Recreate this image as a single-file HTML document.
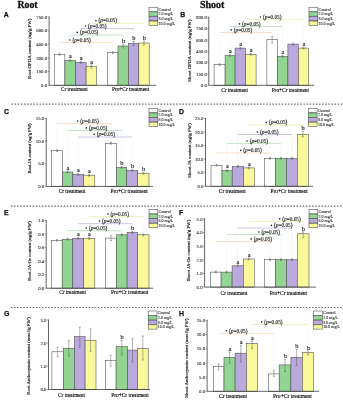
<!DOCTYPE html>
<html><head><meta charset="utf-8"><style>
html,body{margin:0;padding:0;background:#fff;width:343px;height:400px;overflow:hidden}
svg{display:block;will-change:transform}
.t{fill:#111;stroke:#111;stroke-width:0.15}
.s{fill:#222;stroke:#222;stroke-width:0.14}
.y{fill:#333;stroke:#333;stroke-width:0.1}
.yl{fill:#222;stroke:#222;stroke-width:0.17}
</style></head><body>
<svg width="343" height="400" viewBox="0 0 343 400" font-family="'Liberation Serif', serif">
<rect x="0" y="0" width="343" height="400" fill="#fff"/>
<line x1="59.6" y1="42.6" x2="112.8" y2="42.6" stroke="#f0cfa8" stroke-width="0.6"/>
<line x1="59.6" y1="42.6" x2="59.6" y2="54.3" stroke="#f0cfa8" stroke-width="0.4" stroke-dasharray="0.8 0.6" opacity="0.5"/>
<line x1="112.8" y1="42.6" x2="112.8" y2="52.6" stroke="#f0cfa8" stroke-width="0.4" stroke-dasharray="0.8 0.6" opacity="0.5"/>
<circle cx="69.8" cy="40" r="0.8" fill="#222"/>
<text x="72.4" y="41.7" font-size="5.3" class="s">(<tspan font-style="italic">p</tspan>=0.05)</text>
<line x1="70.2" y1="35" x2="123.2" y2="35" stroke="#9ed09e" stroke-width="0.6"/>
<line x1="70.2" y1="35" x2="70.2" y2="60.5" stroke="#9ed09e" stroke-width="0.4" stroke-dasharray="0.8 0.6" opacity="0.5"/>
<line x1="123.2" y1="35" x2="123.2" y2="46" stroke="#9ed09e" stroke-width="0.4" stroke-dasharray="0.8 0.6" opacity="0.5"/>
<circle cx="77.3" cy="32.4" r="0.8" fill="#222"/>
<text x="79.9" y="34.1" font-size="5.3" class="s">(<tspan font-style="italic">p</tspan>=0.05)</text>
<line x1="80.8" y1="28.6" x2="133.6" y2="28.6" stroke="#aaa2cf" stroke-width="0.6"/>
<line x1="80.8" y1="28.6" x2="80.8" y2="62.4" stroke="#aaa2cf" stroke-width="0.4" stroke-dasharray="0.8 0.6" opacity="0.5"/>
<line x1="133.6" y1="28.6" x2="133.6" y2="43.5" stroke="#aaa2cf" stroke-width="0.4" stroke-dasharray="0.8 0.6" opacity="0.5"/>
<circle cx="85.4" cy="26" r="0.8" fill="#222"/>
<text x="88" y="27.7" font-size="5.3" class="s">(<tspan font-style="italic">p</tspan>=0.05)</text>
<line x1="91.4" y1="23.3" x2="144" y2="23.3" stroke="#e6e29a" stroke-width="0.6"/>
<line x1="91.4" y1="23.3" x2="91.4" y2="66.6" stroke="#e6e29a" stroke-width="0.4" stroke-dasharray="0.8 0.6" opacity="0.5"/>
<line x1="144" y1="23.3" x2="144" y2="43" stroke="#e6e29a" stroke-width="0.4" stroke-dasharray="0.8 0.6" opacity="0.5"/>
<circle cx="95.9" cy="20.7" r="0.8" fill="#222"/>
<text x="98.5" y="22.4" font-size="5.3" class="s">(<tspan font-style="italic">p</tspan>=0.05)</text>
<rect x="54.3" y="54.3" width="10.6" height="31" fill="#ffffff" stroke="#4a4a4a" stroke-width="0.55"/>
<line x1="59.6" y1="53.4" x2="59.6" y2="55.2" stroke="#444" stroke-width="0.4"/>
<line x1="58.6" y1="53.4" x2="60.6" y2="53.4" stroke="#444" stroke-width="0.4"/>
<line x1="58.6" y1="55.2" x2="60.6" y2="55.2" stroke="#444" stroke-width="0.4"/>
<rect x="64.9" y="60.5" width="10.6" height="24.8" fill="#92d592" stroke="#4a4a4a" stroke-width="0.55"/>
<line x1="70.2" y1="59.6" x2="70.2" y2="61.4" stroke="#444" stroke-width="0.4"/>
<line x1="69.2" y1="59.6" x2="71.2" y2="59.6" stroke="#444" stroke-width="0.4"/>
<line x1="69.2" y1="61.4" x2="71.2" y2="61.4" stroke="#444" stroke-width="0.4"/>
<rect x="75.5" y="62.4" width="10.6" height="22.9" fill="#b9a9dc" stroke="#4a4a4a" stroke-width="0.55"/>
<line x1="80.8" y1="61.5" x2="80.8" y2="63.3" stroke="#444" stroke-width="0.4"/>
<line x1="79.8" y1="61.5" x2="81.8" y2="61.5" stroke="#444" stroke-width="0.4"/>
<line x1="79.8" y1="63.3" x2="81.8" y2="63.3" stroke="#444" stroke-width="0.4"/>
<rect x="86.1" y="66.6" width="10.6" height="18.7" fill="#f9f89b" stroke="#4a4a4a" stroke-width="0.55"/>
<line x1="91.4" y1="65" x2="91.4" y2="68.2" stroke="#444" stroke-width="0.4"/>
<line x1="90.4" y1="65" x2="92.4" y2="65" stroke="#444" stroke-width="0.4"/>
<line x1="90.4" y1="68.2" x2="92.4" y2="68.2" stroke="#444" stroke-width="0.4"/>
<rect x="107.6" y="52.6" width="10.4" height="32.7" fill="#ffffff" stroke="#4a4a4a" stroke-width="0.55"/>
<line x1="112.8" y1="51.7" x2="112.8" y2="53.5" stroke="#444" stroke-width="0.4"/>
<line x1="111.8" y1="51.7" x2="113.8" y2="51.7" stroke="#444" stroke-width="0.4"/>
<line x1="111.8" y1="53.5" x2="113.8" y2="53.5" stroke="#444" stroke-width="0.4"/>
<rect x="118" y="46" width="10.4" height="39.3" fill="#92d592" stroke="#4a4a4a" stroke-width="0.55"/>
<line x1="123.2" y1="44" x2="123.2" y2="48" stroke="#444" stroke-width="0.4"/>
<line x1="122.2" y1="44" x2="124.2" y2="44" stroke="#444" stroke-width="0.4"/>
<line x1="122.2" y1="48" x2="124.2" y2="48" stroke="#444" stroke-width="0.4"/>
<rect x="128.4" y="43.5" width="10.4" height="41.8" fill="#b9a9dc" stroke="#4a4a4a" stroke-width="0.55"/>
<line x1="133.6" y1="41.5" x2="133.6" y2="45.5" stroke="#444" stroke-width="0.4"/>
<line x1="132.6" y1="41.5" x2="134.6" y2="41.5" stroke="#444" stroke-width="0.4"/>
<line x1="132.6" y1="45.5" x2="134.6" y2="45.5" stroke="#444" stroke-width="0.4"/>
<rect x="138.8" y="43" width="10.4" height="42.3" fill="#f9f89b" stroke="#4a4a4a" stroke-width="0.55"/>
<line x1="144" y1="41" x2="144" y2="45" stroke="#444" stroke-width="0.4"/>
<line x1="143" y1="41" x2="145" y2="41" stroke="#444" stroke-width="0.4"/>
<line x1="143" y1="45" x2="145" y2="45" stroke="#444" stroke-width="0.4"/>
<text x="70.5" y="58.3" font-size="6.3" text-anchor="middle" class="s">a</text>
<text x="81.1" y="60.2" font-size="6.3" text-anchor="middle" class="s">a</text>
<text x="91.7" y="63.7" font-size="6.3" text-anchor="middle" class="s">a</text>
<text x="123.5" y="42.7" font-size="6.3" text-anchor="middle" class="s">b</text>
<text x="133.9" y="40.2" font-size="6.3" text-anchor="middle" class="s">b</text>
<text x="144.3" y="39.7" font-size="6.3" text-anchor="middle" class="s">b</text>
<line x1="49.1" y1="16.5" x2="49.1" y2="85.3" stroke="#333" stroke-width="0.75"/>
<line x1="49.1" y1="85.3" x2="156.3" y2="85.3" stroke="#333" stroke-width="0.75"/>
<line x1="47.5" y1="85.3" x2="49.1" y2="85.3" stroke="#333" stroke-width="0.45"/>
<text x="47.1" y="86.95" font-size="4.8" text-anchor="end" class="y">0.0</text>
<line x1="47.5" y1="71.64" x2="49.1" y2="71.64" stroke="#333" stroke-width="0.45"/>
<text x="47.1" y="73.29" font-size="4.8" text-anchor="end" class="y">150.0</text>
<line x1="47.5" y1="57.98" x2="49.1" y2="57.98" stroke="#333" stroke-width="0.45"/>
<text x="47.1" y="59.63" font-size="4.8" text-anchor="end" class="y">300.0</text>
<line x1="47.5" y1="44.32" x2="49.1" y2="44.32" stroke="#333" stroke-width="0.45"/>
<text x="47.1" y="45.97" font-size="4.8" text-anchor="end" class="y">450.0</text>
<line x1="47.5" y1="30.66" x2="49.1" y2="30.66" stroke="#333" stroke-width="0.45"/>
<text x="47.1" y="32.31" font-size="4.8" text-anchor="end" class="y">600.0</text>
<line x1="47.5" y1="17" x2="49.1" y2="17" stroke="#333" stroke-width="0.45"/>
<text x="47.1" y="18.65" font-size="4.8" text-anchor="end" class="y">750.0</text>
<text transform="translate(31.2,48.8) rotate(-90)" font-size="4.85" text-anchor="middle" class="yl">Root OPDA content (ng/g FW)</text>
<text x="74.3" y="91.2" font-size="5.35" text-anchor="middle" class="t">Cr treatment</text>
<text x="130.6" y="91.2" font-size="5.35" text-anchor="middle" class="t">Pro+Cr treatment</text>
<rect x="149" y="7.3" width="8.8" height="4.3" fill="#ffffff" stroke="#4a4a4a" stroke-width="0.55"/>
<text x="158.6" y="10.7" font-size="4.0" class="y">Control</text>
<rect x="149" y="11.9" width="8.8" height="4.3" fill="#92d592" stroke="#4a4a4a" stroke-width="0.55"/>
<text x="158.6" y="15.3" font-size="4.0" class="y">2.0 mg/L</text>
<rect x="149" y="16.5" width="8.8" height="4.3" fill="#b9a9dc" stroke="#4a4a4a" stroke-width="0.55"/>
<text x="158.6" y="19.9" font-size="4.0" class="y">8.0 mg/L</text>
<rect x="149" y="21.1" width="8.8" height="4.3" fill="#f9f89b" stroke="#4a4a4a" stroke-width="0.55"/>
<text x="158.6" y="24.5" font-size="4.0" class="y">10.0 mg/L</text>
<text x="3.8" y="17" font-family="'Liberation Sans', sans-serif" font-weight="bold" font-size="6.9" fill="#111" stroke="#111" stroke-width="0.25">A</text>
<line x1="219.6" y1="32.5" x2="272.15" y2="32.5" stroke="#f0cfa8" stroke-width="0.6"/>
<line x1="219.6" y1="32.5" x2="219.6" y2="64.6" stroke="#f0cfa8" stroke-width="0.4" stroke-dasharray="0.8 0.6" opacity="0.5"/>
<line x1="272.15" y1="32.5" x2="272.15" y2="39.7" stroke="#f0cfa8" stroke-width="0.4" stroke-dasharray="0.8 0.6" opacity="0.5"/>
<circle cx="231.2" cy="29.9" r="0.8" fill="#222"/>
<text x="233.8" y="31.6" font-size="5.3" class="s">(<tspan font-style="italic">p</tspan>=0.05)</text>
<line x1="230.1" y1="26.5" x2="282.65" y2="26.5" stroke="#9ed09e" stroke-width="0.6"/>
<line x1="230.1" y1="26.5" x2="230.1" y2="55.5" stroke="#9ed09e" stroke-width="0.4" stroke-dasharray="0.8 0.6" opacity="0.5"/>
<line x1="282.65" y1="26.5" x2="282.65" y2="56.4" stroke="#9ed09e" stroke-width="0.4" stroke-dasharray="0.8 0.6" opacity="0.5"/>
<circle cx="239.5" cy="23.9" r="0.8" fill="#222"/>
<text x="242.1" y="25.6" font-size="5.3" class="s">(<tspan font-style="italic">p</tspan>=0.05)</text>
<line x1="250.85" y1="19.6" x2="303.55" y2="19.6" stroke="#e6e29a" stroke-width="0.6"/>
<line x1="250.85" y1="19.6" x2="250.85" y2="54.3" stroke="#e6e29a" stroke-width="0.4" stroke-dasharray="0.8 0.6" opacity="0.5"/>
<line x1="303.55" y1="19.6" x2="303.55" y2="48.1" stroke="#e6e29a" stroke-width="0.4" stroke-dasharray="0.8 0.6" opacity="0.5"/>
<circle cx="260.4" cy="17" r="0.8" fill="#222"/>
<text x="263" y="18.7" font-size="5.3" class="s">(<tspan font-style="italic">p</tspan>=0.05)</text>
<rect x="214.1" y="64.6" width="11" height="20.7" fill="#ffffff" stroke="#4a4a4a" stroke-width="0.55"/>
<line x1="219.6" y1="63.7" x2="219.6" y2="65.5" stroke="#444" stroke-width="0.4"/>
<line x1="218.6" y1="63.7" x2="220.6" y2="63.7" stroke="#444" stroke-width="0.4"/>
<line x1="218.6" y1="65.5" x2="220.6" y2="65.5" stroke="#444" stroke-width="0.4"/>
<rect x="225.1" y="55.5" width="10" height="29.8" fill="#92d592" stroke="#4a4a4a" stroke-width="0.55"/>
<line x1="230.1" y1="54.6" x2="230.1" y2="56.4" stroke="#444" stroke-width="0.4"/>
<line x1="229.1" y1="54.6" x2="231.1" y2="54.6" stroke="#444" stroke-width="0.4"/>
<line x1="229.1" y1="56.4" x2="231.1" y2="56.4" stroke="#444" stroke-width="0.4"/>
<rect x="235.1" y="48.1" width="10.5" height="37.2" fill="#b9a9dc" stroke="#4a4a4a" stroke-width="0.55"/>
<line x1="240.35" y1="47.2" x2="240.35" y2="49" stroke="#444" stroke-width="0.4"/>
<line x1="239.35" y1="47.2" x2="241.35" y2="47.2" stroke="#444" stroke-width="0.4"/>
<line x1="239.35" y1="49" x2="241.35" y2="49" stroke="#444" stroke-width="0.4"/>
<rect x="245.6" y="54.3" width="10.5" height="31" fill="#f9f89b" stroke="#4a4a4a" stroke-width="0.55"/>
<line x1="250.85" y1="53.4" x2="250.85" y2="55.2" stroke="#444" stroke-width="0.4"/>
<line x1="249.85" y1="53.4" x2="251.85" y2="53.4" stroke="#444" stroke-width="0.4"/>
<line x1="249.85" y1="55.2" x2="251.85" y2="55.2" stroke="#444" stroke-width="0.4"/>
<rect x="266.9" y="39.7" width="10.5" height="45.6" fill="#ffffff" stroke="#4a4a4a" stroke-width="0.55"/>
<line x1="272.15" y1="36.2" x2="272.15" y2="43.2" stroke="#444" stroke-width="0.4"/>
<line x1="271.15" y1="36.2" x2="273.15" y2="36.2" stroke="#444" stroke-width="0.4"/>
<line x1="271.15" y1="43.2" x2="273.15" y2="43.2" stroke="#444" stroke-width="0.4"/>
<rect x="277.4" y="56.4" width="10.5" height="28.9" fill="#92d592" stroke="#4a4a4a" stroke-width="0.55"/>
<line x1="282.65" y1="55.5" x2="282.65" y2="57.3" stroke="#444" stroke-width="0.4"/>
<line x1="281.65" y1="55.5" x2="283.65" y2="55.5" stroke="#444" stroke-width="0.4"/>
<line x1="281.65" y1="57.3" x2="283.65" y2="57.3" stroke="#444" stroke-width="0.4"/>
<rect x="287.9" y="44.1" width="10.5" height="41.2" fill="#b9a9dc" stroke="#4a4a4a" stroke-width="0.55"/>
<line x1="293.15" y1="43.2" x2="293.15" y2="45" stroke="#444" stroke-width="0.4"/>
<line x1="292.15" y1="43.2" x2="294.15" y2="43.2" stroke="#444" stroke-width="0.4"/>
<line x1="292.15" y1="45" x2="294.15" y2="45" stroke="#444" stroke-width="0.4"/>
<rect x="298.4" y="48.1" width="10.3" height="37.2" fill="#f9f89b" stroke="#4a4a4a" stroke-width="0.55"/>
<line x1="303.55" y1="47.2" x2="303.55" y2="49" stroke="#444" stroke-width="0.4"/>
<line x1="302.55" y1="47.2" x2="304.55" y2="47.2" stroke="#444" stroke-width="0.4"/>
<line x1="302.55" y1="49" x2="304.55" y2="49" stroke="#444" stroke-width="0.4"/>
<text x="230.4" y="53.3" font-size="6.3" text-anchor="middle" class="s">a</text>
<text x="240.65" y="45.9" font-size="6.3" text-anchor="middle" class="s">a</text>
<text x="251.15" y="52.1" font-size="6.3" text-anchor="middle" class="s">a</text>
<text x="282.95" y="54.2" font-size="6.3" text-anchor="middle" class="s">a</text>
<text x="303.85" y="45.9" font-size="6.3" text-anchor="middle" class="s">a</text>
<line x1="208.8" y1="16.7" x2="208.8" y2="85.3" stroke="#333" stroke-width="0.75"/>
<line x1="208.8" y1="85.3" x2="314.2" y2="85.3" stroke="#333" stroke-width="0.75"/>
<line x1="207.2" y1="85.3" x2="208.8" y2="85.3" stroke="#333" stroke-width="0.45"/>
<text x="206.8" y="86.95" font-size="4.8" text-anchor="end" class="y">0.0</text>
<line x1="207.2" y1="73.95" x2="208.8" y2="73.95" stroke="#333" stroke-width="0.45"/>
<text x="206.8" y="75.6" font-size="4.8" text-anchor="end" class="y">150.0</text>
<line x1="207.2" y1="62.6" x2="208.8" y2="62.6" stroke="#333" stroke-width="0.45"/>
<text x="206.8" y="64.25" font-size="4.8" text-anchor="end" class="y">300.0</text>
<line x1="207.2" y1="51.25" x2="208.8" y2="51.25" stroke="#333" stroke-width="0.45"/>
<text x="206.8" y="52.9" font-size="4.8" text-anchor="end" class="y">450.0</text>
<line x1="207.2" y1="39.9" x2="208.8" y2="39.9" stroke="#333" stroke-width="0.45"/>
<text x="206.8" y="41.55" font-size="4.8" text-anchor="end" class="y">600.0</text>
<line x1="207.2" y1="28.55" x2="208.8" y2="28.55" stroke="#333" stroke-width="0.45"/>
<text x="206.8" y="30.2" font-size="4.8" text-anchor="end" class="y">750.0</text>
<line x1="207.2" y1="17.2" x2="208.8" y2="17.2" stroke="#333" stroke-width="0.45"/>
<text x="206.8" y="18.85" font-size="4.8" text-anchor="end" class="y">900.0</text>
<text transform="translate(190.5,50.5) rotate(-90)" font-size="4.85" text-anchor="middle" class="yl">Shoot OPDA content (ng/g FW)</text>
<text x="234.6" y="91.8" font-size="5.35" text-anchor="middle" class="t">Cr treatment</text>
<text x="290.3" y="91.8" font-size="5.35" text-anchor="middle" class="t">Pro+Cr treatment</text>
<rect x="309" y="7.3" width="8.8" height="4.3" fill="#ffffff" stroke="#4a4a4a" stroke-width="0.55"/>
<text x="318.6" y="10.7" font-size="4.0" class="y">Control</text>
<rect x="309" y="11.9" width="8.8" height="4.3" fill="#92d592" stroke="#4a4a4a" stroke-width="0.55"/>
<text x="318.6" y="15.3" font-size="4.0" class="y">2.0 mg/L</text>
<rect x="309" y="16.5" width="8.8" height="4.3" fill="#b9a9dc" stroke="#4a4a4a" stroke-width="0.55"/>
<text x="318.6" y="19.9" font-size="4.0" class="y">8.0 mg/L</text>
<rect x="309" y="21.1" width="8.8" height="4.3" fill="#f9f89b" stroke="#4a4a4a" stroke-width="0.55"/>
<text x="318.6" y="24.5" font-size="4.0" class="y">10.0 mg/L</text>
<text x="180.3" y="17.1" font-family="'Liberation Sans', sans-serif" font-weight="bold" font-size="6.9" fill="#111" stroke="#111" stroke-width="0.25">B</text>
<line x1="57" y1="123.7" x2="110.95" y2="123.7" stroke="#f0cfa8" stroke-width="0.6"/>
<line x1="57" y1="123.7" x2="57" y2="150.7" stroke="#f0cfa8" stroke-width="0.4" stroke-dasharray="0.8 0.6" opacity="0.5"/>
<line x1="110.95" y1="123.7" x2="110.95" y2="143.3" stroke="#f0cfa8" stroke-width="0.4" stroke-dasharray="0.8 0.6" opacity="0.5"/>
<circle cx="77.7" cy="121.1" r="0.8" fill="#222"/>
<text x="80.3" y="122.8" font-size="5.3" class="s">(<tspan font-style="italic">p</tspan>=0.05)</text>
<line x1="67.7" y1="130.5" x2="121.65" y2="130.5" stroke="#9ed09e" stroke-width="0.6"/>
<line x1="67.7" y1="130.5" x2="67.7" y2="172" stroke="#9ed09e" stroke-width="0.4" stroke-dasharray="0.8 0.6" opacity="0.5"/>
<line x1="121.65" y1="130.5" x2="121.65" y2="167.3" stroke="#9ed09e" stroke-width="0.4" stroke-dasharray="0.8 0.6" opacity="0.5"/>
<circle cx="86.3" cy="127.9" r="0.8" fill="#222"/>
<text x="88.9" y="129.6" font-size="5.3" class="s">(<tspan font-style="italic">p</tspan>=0.05)</text>
<line x1="78.2" y1="137" x2="132.2" y2="137" stroke="#aaa2cf" stroke-width="0.6"/>
<line x1="78.2" y1="137" x2="78.2" y2="174.3" stroke="#aaa2cf" stroke-width="0.4" stroke-dasharray="0.8 0.6" opacity="0.5"/>
<line x1="132.2" y1="137" x2="132.2" y2="170.3" stroke="#aaa2cf" stroke-width="0.4" stroke-dasharray="0.8 0.6" opacity="0.5"/>
<circle cx="94.1" cy="134.4" r="0.8" fill="#222"/>
<text x="96.7" y="136.1" font-size="5.3" class="s">(<tspan font-style="italic">p</tspan>=0.05)</text>
<rect x="51.4" y="150.7" width="11.2" height="35.7" fill="#ffffff" stroke="#4a4a4a" stroke-width="0.55"/>
<line x1="57" y1="149.8" x2="57" y2="151.6" stroke="#444" stroke-width="0.4"/>
<line x1="56" y1="149.8" x2="58" y2="149.8" stroke="#444" stroke-width="0.4"/>
<line x1="56" y1="151.6" x2="58" y2="151.6" stroke="#444" stroke-width="0.4"/>
<rect x="62.6" y="172" width="10.2" height="14.4" fill="#92d592" stroke="#4a4a4a" stroke-width="0.55"/>
<line x1="67.7" y1="171.1" x2="67.7" y2="172.9" stroke="#444" stroke-width="0.4"/>
<line x1="66.7" y1="171.1" x2="68.7" y2="171.1" stroke="#444" stroke-width="0.4"/>
<line x1="66.7" y1="172.9" x2="68.7" y2="172.9" stroke="#444" stroke-width="0.4"/>
<rect x="72.8" y="174.3" width="10.8" height="12.1" fill="#b9a9dc" stroke="#4a4a4a" stroke-width="0.55"/>
<line x1="78.2" y1="173.4" x2="78.2" y2="175.2" stroke="#444" stroke-width="0.4"/>
<line x1="77.2" y1="173.4" x2="79.2" y2="173.4" stroke="#444" stroke-width="0.4"/>
<line x1="77.2" y1="175.2" x2="79.2" y2="175.2" stroke="#444" stroke-width="0.4"/>
<rect x="83.6" y="175.2" width="11.2" height="11.2" fill="#f9f89b" stroke="#4a4a4a" stroke-width="0.55"/>
<line x1="89.2" y1="174.3" x2="89.2" y2="176.1" stroke="#444" stroke-width="0.4"/>
<line x1="88.2" y1="174.3" x2="90.2" y2="174.3" stroke="#444" stroke-width="0.4"/>
<line x1="88.2" y1="176.1" x2="90.2" y2="176.1" stroke="#444" stroke-width="0.4"/>
<rect x="105.3" y="143.3" width="11.3" height="43.1" fill="#ffffff" stroke="#4a4a4a" stroke-width="0.55"/>
<line x1="110.95" y1="142.4" x2="110.95" y2="144.2" stroke="#444" stroke-width="0.4"/>
<line x1="109.95" y1="142.4" x2="111.95" y2="142.4" stroke="#444" stroke-width="0.4"/>
<line x1="109.95" y1="144.2" x2="111.95" y2="144.2" stroke="#444" stroke-width="0.4"/>
<rect x="116.6" y="167.3" width="10.1" height="19.1" fill="#92d592" stroke="#4a4a4a" stroke-width="0.55"/>
<line x1="121.65" y1="166.4" x2="121.65" y2="168.2" stroke="#444" stroke-width="0.4"/>
<line x1="120.65" y1="166.4" x2="122.65" y2="166.4" stroke="#444" stroke-width="0.4"/>
<line x1="120.65" y1="168.2" x2="122.65" y2="168.2" stroke="#444" stroke-width="0.4"/>
<rect x="126.7" y="170.3" width="11" height="16.1" fill="#b9a9dc" stroke="#4a4a4a" stroke-width="0.55"/>
<line x1="132.2" y1="169.4" x2="132.2" y2="171.2" stroke="#444" stroke-width="0.4"/>
<line x1="131.2" y1="169.4" x2="133.2" y2="169.4" stroke="#444" stroke-width="0.4"/>
<line x1="131.2" y1="171.2" x2="133.2" y2="171.2" stroke="#444" stroke-width="0.4"/>
<rect x="137.7" y="173.2" width="11.3" height="13.2" fill="#f9f89b" stroke="#4a4a4a" stroke-width="0.55"/>
<line x1="143.35" y1="172.3" x2="143.35" y2="174.1" stroke="#444" stroke-width="0.4"/>
<line x1="142.35" y1="172.3" x2="144.35" y2="172.3" stroke="#444" stroke-width="0.4"/>
<line x1="142.35" y1="174.1" x2="144.35" y2="174.1" stroke="#444" stroke-width="0.4"/>
<text x="68" y="169.8" font-size="6.3" text-anchor="middle" class="s">a</text>
<text x="78.5" y="172.1" font-size="6.3" text-anchor="middle" class="s">a</text>
<text x="89.5" y="173" font-size="6.3" text-anchor="middle" class="s">a</text>
<text x="121.95" y="165.1" font-size="6.3" text-anchor="middle" class="s">b</text>
<text x="132.5" y="168.1" font-size="6.3" text-anchor="middle" class="s">b</text>
<text x="143.65" y="171" font-size="6.3" text-anchor="middle" class="s">b</text>
<line x1="46.2" y1="118" x2="46.2" y2="186.4" stroke="#333" stroke-width="0.75"/>
<line x1="46.2" y1="186.4" x2="153.1" y2="186.4" stroke="#333" stroke-width="0.75"/>
<line x1="44.6" y1="186.4" x2="46.2" y2="186.4" stroke="#333" stroke-width="0.45"/>
<text x="44.2" y="188.05" font-size="4.8" text-anchor="end" class="y">0.0</text>
<line x1="44.6" y1="163.77" x2="46.2" y2="163.77" stroke="#333" stroke-width="0.45"/>
<text x="44.2" y="165.42" font-size="4.8" text-anchor="end" class="y">5.0</text>
<line x1="44.6" y1="141.13" x2="46.2" y2="141.13" stroke="#333" stroke-width="0.45"/>
<text x="44.2" y="142.78" font-size="4.8" text-anchor="end" class="y">10.0</text>
<line x1="44.6" y1="118.5" x2="46.2" y2="118.5" stroke="#333" stroke-width="0.45"/>
<text x="44.2" y="120.15" font-size="4.8" text-anchor="end" class="y">15.0</text>
<text transform="translate(30.8,148.5) rotate(-90)" font-size="4.6" text-anchor="middle" class="yl">Root JA content (ng/g FW)</text>
<text x="72.1" y="193.2" font-size="5.35" text-anchor="middle" class="t">Cr treatment</text>
<text x="129.15" y="193.2" font-size="5.35" text-anchor="middle" class="t">Pro+Cr treatment</text>
<rect x="149" y="108.4" width="8.8" height="4.3" fill="#ffffff" stroke="#4a4a4a" stroke-width="0.55"/>
<text x="158.6" y="111.8" font-size="4.0" class="y">Control</text>
<rect x="149" y="113" width="8.8" height="4.3" fill="#92d592" stroke="#4a4a4a" stroke-width="0.55"/>
<text x="158.6" y="116.4" font-size="4.0" class="y">2.0 mg/L</text>
<rect x="149" y="117.6" width="8.8" height="4.3" fill="#b9a9dc" stroke="#4a4a4a" stroke-width="0.55"/>
<text x="158.6" y="121" font-size="4.0" class="y">8.0 mg/L</text>
<rect x="149" y="122.2" width="8.8" height="4.3" fill="#f9f89b" stroke="#4a4a4a" stroke-width="0.55"/>
<text x="158.6" y="125.6" font-size="4.0" class="y">10.0 mg/L</text>
<text x="4" y="113.9" font-family="'Liberation Sans', sans-serif" font-weight="bold" font-size="6.9" fill="#111" stroke="#111" stroke-width="0.25">C</text>
<line x1="216.5" y1="153" x2="269.9" y2="153" stroke="#f0cfa8" stroke-width="0.6"/>
<line x1="216.5" y1="153" x2="216.5" y2="165.3" stroke="#f0cfa8" stroke-width="0.4" stroke-dasharray="0.8 0.6" opacity="0.5"/>
<line x1="269.9" y1="153" x2="269.9" y2="158.3" stroke="#f0cfa8" stroke-width="0.4" stroke-dasharray="0.8 0.6" opacity="0.5"/>
<circle cx="240.7" cy="150.4" r="0.8" fill="#222"/>
<text x="243.3" y="152.1" font-size="5.3" class="s">(<tspan font-style="italic">p</tspan>=0.05)</text>
<line x1="227.1" y1="143.6" x2="280.9" y2="143.6" stroke="#9ed09e" stroke-width="0.6"/>
<line x1="227.1" y1="143.6" x2="227.1" y2="170.6" stroke="#9ed09e" stroke-width="0.4" stroke-dasharray="0.8 0.6" opacity="0.5"/>
<line x1="280.9" y1="143.6" x2="280.9" y2="158.3" stroke="#9ed09e" stroke-width="0.4" stroke-dasharray="0.8 0.6" opacity="0.5"/>
<circle cx="247.1" cy="141" r="0.8" fill="#222"/>
<text x="249.7" y="142.7" font-size="5.3" class="s">(<tspan font-style="italic">p</tspan>=0.05)</text>
<line x1="237.85" y1="134.5" x2="291.9" y2="134.5" stroke="#aaa2cf" stroke-width="0.6"/>
<line x1="237.85" y1="134.5" x2="237.85" y2="166.4" stroke="#aaa2cf" stroke-width="0.4" stroke-dasharray="0.8 0.6" opacity="0.5"/>
<line x1="291.9" y1="134.5" x2="291.9" y2="158.3" stroke="#aaa2cf" stroke-width="0.4" stroke-dasharray="0.8 0.6" opacity="0.5"/>
<circle cx="257.4" cy="131.9" r="0.8" fill="#222"/>
<text x="260" y="133.6" font-size="5.3" class="s">(<tspan font-style="italic">p</tspan>=0.05)</text>
<line x1="249.05" y1="125" x2="302.8" y2="125" stroke="#e6e29a" stroke-width="0.6"/>
<line x1="249.05" y1="125" x2="249.05" y2="167.9" stroke="#e6e29a" stroke-width="0.4" stroke-dasharray="0.8 0.6" opacity="0.5"/>
<line x1="302.8" y1="125" x2="302.8" y2="134.3" stroke="#e6e29a" stroke-width="0.4" stroke-dasharray="0.8 0.6" opacity="0.5"/>
<circle cx="266.3" cy="122.4" r="0.8" fill="#222"/>
<text x="268.9" y="124.1" font-size="5.3" class="s">(<tspan font-style="italic">p</tspan>=0.05)</text>
<rect x="211" y="165.3" width="11" height="21" fill="#ffffff" stroke="#4a4a4a" stroke-width="0.55"/>
<line x1="216.5" y1="164.4" x2="216.5" y2="166.2" stroke="#444" stroke-width="0.4"/>
<line x1="215.5" y1="164.4" x2="217.5" y2="164.4" stroke="#444" stroke-width="0.4"/>
<line x1="215.5" y1="166.2" x2="217.5" y2="166.2" stroke="#444" stroke-width="0.4"/>
<rect x="222" y="170.6" width="10.2" height="15.7" fill="#92d592" stroke="#4a4a4a" stroke-width="0.55"/>
<line x1="227.1" y1="169.7" x2="227.1" y2="171.5" stroke="#444" stroke-width="0.4"/>
<line x1="226.1" y1="169.7" x2="228.1" y2="169.7" stroke="#444" stroke-width="0.4"/>
<line x1="226.1" y1="171.5" x2="228.1" y2="171.5" stroke="#444" stroke-width="0.4"/>
<rect x="232.2" y="166.4" width="11.3" height="19.9" fill="#b9a9dc" stroke="#4a4a4a" stroke-width="0.55"/>
<line x1="237.85" y1="165.5" x2="237.85" y2="167.3" stroke="#444" stroke-width="0.4"/>
<line x1="236.85" y1="165.5" x2="238.85" y2="165.5" stroke="#444" stroke-width="0.4"/>
<line x1="236.85" y1="167.3" x2="238.85" y2="167.3" stroke="#444" stroke-width="0.4"/>
<rect x="243.5" y="167.9" width="11.1" height="18.4" fill="#f9f89b" stroke="#4a4a4a" stroke-width="0.55"/>
<line x1="249.05" y1="167" x2="249.05" y2="168.8" stroke="#444" stroke-width="0.4"/>
<line x1="248.05" y1="167" x2="250.05" y2="167" stroke="#444" stroke-width="0.4"/>
<line x1="248.05" y1="168.8" x2="250.05" y2="168.8" stroke="#444" stroke-width="0.4"/>
<rect x="264.5" y="158.3" width="10.8" height="28" fill="#ffffff" stroke="#4a4a4a" stroke-width="0.55"/>
<line x1="269.9" y1="157.4" x2="269.9" y2="159.2" stroke="#444" stroke-width="0.4"/>
<line x1="268.9" y1="157.4" x2="270.9" y2="157.4" stroke="#444" stroke-width="0.4"/>
<line x1="268.9" y1="159.2" x2="270.9" y2="159.2" stroke="#444" stroke-width="0.4"/>
<rect x="275.3" y="158.3" width="11.2" height="28" fill="#92d592" stroke="#4a4a4a" stroke-width="0.55"/>
<line x1="280.9" y1="157.4" x2="280.9" y2="159.2" stroke="#444" stroke-width="0.4"/>
<line x1="279.9" y1="157.4" x2="281.9" y2="157.4" stroke="#444" stroke-width="0.4"/>
<line x1="279.9" y1="159.2" x2="281.9" y2="159.2" stroke="#444" stroke-width="0.4"/>
<rect x="286.5" y="158.3" width="10.8" height="28" fill="#b9a9dc" stroke="#4a4a4a" stroke-width="0.55"/>
<line x1="291.9" y1="157.4" x2="291.9" y2="159.2" stroke="#444" stroke-width="0.4"/>
<line x1="290.9" y1="157.4" x2="292.9" y2="157.4" stroke="#444" stroke-width="0.4"/>
<line x1="290.9" y1="159.2" x2="292.9" y2="159.2" stroke="#444" stroke-width="0.4"/>
<rect x="297.3" y="134.3" width="11" height="52" fill="#f9f89b" stroke="#4a4a4a" stroke-width="0.55"/>
<line x1="302.8" y1="131.6" x2="302.8" y2="136.8" stroke="#444" stroke-width="0.4"/>
<line x1="301.8" y1="131.6" x2="303.8" y2="131.6" stroke="#444" stroke-width="0.4"/>
<line x1="301.8" y1="136.8" x2="303.8" y2="136.8" stroke="#444" stroke-width="0.4"/>
<text x="227.4" y="168.4" font-size="6.3" text-anchor="middle" class="s">a</text>
<text x="249.35" y="165.7" font-size="6.3" text-anchor="middle" class="s">a</text>
<text x="303.1" y="130.3" font-size="6.3" text-anchor="middle" class="s">b</text>
<line x1="205.5" y1="118" x2="205.5" y2="186.3" stroke="#333" stroke-width="0.75"/>
<line x1="205.5" y1="186.3" x2="313" y2="186.3" stroke="#333" stroke-width="0.75"/>
<line x1="203.9" y1="186.3" x2="205.5" y2="186.3" stroke="#333" stroke-width="0.45"/>
<text x="203.5" y="187.95" font-size="4.8" text-anchor="end" class="y">0.0</text>
<line x1="203.9" y1="172.74" x2="205.5" y2="172.74" stroke="#333" stroke-width="0.45"/>
<text x="203.5" y="174.39" font-size="4.8" text-anchor="end" class="y">5.0</text>
<line x1="203.9" y1="159.18" x2="205.5" y2="159.18" stroke="#333" stroke-width="0.45"/>
<text x="203.5" y="160.83" font-size="4.8" text-anchor="end" class="y">10.0</text>
<line x1="203.9" y1="145.62" x2="205.5" y2="145.62" stroke="#333" stroke-width="0.45"/>
<text x="203.5" y="147.27" font-size="4.8" text-anchor="end" class="y">15.0</text>
<line x1="203.9" y1="132.06" x2="205.5" y2="132.06" stroke="#333" stroke-width="0.45"/>
<text x="203.5" y="133.71" font-size="4.8" text-anchor="end" class="y">20.0</text>
<line x1="203.9" y1="118.5" x2="205.5" y2="118.5" stroke="#333" stroke-width="0.45"/>
<text x="203.5" y="120.15" font-size="4.8" text-anchor="end" class="y">25.0</text>
<text transform="translate(190.6,150.5) rotate(-90)" font-size="4.85" text-anchor="middle" class="yl">Shoot JA content (ng/g FW)</text>
<text x="232.3" y="193.1" font-size="5.35" text-anchor="middle" class="t">Cr treatment</text>
<text x="289.2" y="193.1" font-size="5.35" text-anchor="middle" class="t">Pro+Cr treatment</text>
<rect x="308.3" y="108.4" width="8.8" height="4.3" fill="#ffffff" stroke="#4a4a4a" stroke-width="0.55"/>
<text x="317.9" y="111.8" font-size="4.0" class="y">Control</text>
<rect x="308.3" y="113" width="8.8" height="4.3" fill="#92d592" stroke="#4a4a4a" stroke-width="0.55"/>
<text x="317.9" y="116.4" font-size="4.0" class="y">2.0 mg/L</text>
<rect x="308.3" y="117.6" width="8.8" height="4.3" fill="#b9a9dc" stroke="#4a4a4a" stroke-width="0.55"/>
<text x="317.9" y="121" font-size="4.0" class="y">8.0 mg/L</text>
<rect x="308.3" y="122.2" width="8.8" height="4.3" fill="#f9f89b" stroke="#4a4a4a" stroke-width="0.55"/>
<text x="317.9" y="125.6" font-size="4.0" class="y">10.0 mg/L</text>
<text x="179.1" y="113.8" font-family="'Liberation Sans', sans-serif" font-weight="bold" font-size="6.9" fill="#111" stroke="#111" stroke-width="0.25">D</text>
<line x1="67.5" y1="230.7" x2="121.85" y2="230.7" stroke="#9ed09e" stroke-width="0.6"/>
<line x1="67.5" y1="230.7" x2="67.5" y2="239.2" stroke="#9ed09e" stroke-width="0.4" stroke-dasharray="0.8 0.6" opacity="0.5"/>
<line x1="121.85" y1="230.7" x2="121.85" y2="234.8" stroke="#9ed09e" stroke-width="0.4" stroke-dasharray="0.8 0.6" opacity="0.5"/>
<circle cx="86.3" cy="228.1" r="0.8" fill="#222"/>
<text x="88.9" y="229.8" font-size="5.3" class="s">(<tspan font-style="italic">p</tspan>=0.05)</text>
<line x1="78.2" y1="223.7" x2="132.4" y2="223.7" stroke="#aaa2cf" stroke-width="0.6"/>
<line x1="78.2" y1="223.7" x2="78.2" y2="238.3" stroke="#aaa2cf" stroke-width="0.4" stroke-dasharray="0.8 0.6" opacity="0.5"/>
<line x1="132.4" y1="223.7" x2="132.4" y2="232.4" stroke="#aaa2cf" stroke-width="0.4" stroke-dasharray="0.8 0.6" opacity="0.5"/>
<circle cx="99.5" cy="221.1" r="0.8" fill="#222"/>
<text x="102.1" y="222.8" font-size="5.3" class="s">(<tspan font-style="italic">p</tspan>=0.05)</text>
<line x1="89.2" y1="216.7" x2="143.35" y2="216.7" stroke="#e6e29a" stroke-width="0.6"/>
<line x1="89.2" y1="216.7" x2="89.2" y2="238.3" stroke="#e6e29a" stroke-width="0.4" stroke-dasharray="0.8 0.6" opacity="0.5"/>
<line x1="143.35" y1="216.7" x2="143.35" y2="234.8" stroke="#e6e29a" stroke-width="0.4" stroke-dasharray="0.8 0.6" opacity="0.5"/>
<circle cx="108" cy="214.1" r="0.8" fill="#222"/>
<text x="110.6" y="215.8" font-size="5.3" class="s">(<tspan font-style="italic">p</tspan>=0.05)</text>
<rect x="51.4" y="240.3" width="10.8" height="47.9" fill="#ffffff" stroke="#4a4a4a" stroke-width="0.55"/>
<line x1="56.8" y1="239.4" x2="56.8" y2="241.2" stroke="#444" stroke-width="0.4"/>
<line x1="55.8" y1="239.4" x2="57.8" y2="239.4" stroke="#444" stroke-width="0.4"/>
<line x1="55.8" y1="241.2" x2="57.8" y2="241.2" stroke="#444" stroke-width="0.4"/>
<rect x="62.2" y="239.2" width="10.6" height="49" fill="#92d592" stroke="#4a4a4a" stroke-width="0.55"/>
<line x1="67.5" y1="238.3" x2="67.5" y2="240.1" stroke="#444" stroke-width="0.4"/>
<line x1="66.5" y1="238.3" x2="68.5" y2="238.3" stroke="#444" stroke-width="0.4"/>
<line x1="66.5" y1="240.1" x2="68.5" y2="240.1" stroke="#444" stroke-width="0.4"/>
<rect x="72.8" y="238.3" width="10.8" height="49.9" fill="#b9a9dc" stroke="#4a4a4a" stroke-width="0.55"/>
<line x1="78.2" y1="237.4" x2="78.2" y2="239.2" stroke="#444" stroke-width="0.4"/>
<line x1="77.2" y1="237.4" x2="79.2" y2="237.4" stroke="#444" stroke-width="0.4"/>
<line x1="77.2" y1="239.2" x2="79.2" y2="239.2" stroke="#444" stroke-width="0.4"/>
<rect x="83.6" y="238.3" width="11.2" height="49.9" fill="#f9f89b" stroke="#4a4a4a" stroke-width="0.55"/>
<line x1="89.2" y1="237.4" x2="89.2" y2="239.2" stroke="#444" stroke-width="0.4"/>
<line x1="88.2" y1="237.4" x2="90.2" y2="237.4" stroke="#444" stroke-width="0.4"/>
<line x1="88.2" y1="239.2" x2="90.2" y2="239.2" stroke="#444" stroke-width="0.4"/>
<rect x="105.3" y="238.1" width="11.3" height="50.1" fill="#ffffff" stroke="#4a4a4a" stroke-width="0.55"/>
<line x1="110.95" y1="235.4" x2="110.95" y2="240.5" stroke="#444" stroke-width="0.4"/>
<line x1="109.95" y1="235.4" x2="111.95" y2="235.4" stroke="#444" stroke-width="0.4"/>
<line x1="109.95" y1="240.5" x2="111.95" y2="240.5" stroke="#444" stroke-width="0.4"/>
<rect x="116.6" y="234.8" width="10.5" height="53.4" fill="#92d592" stroke="#4a4a4a" stroke-width="0.55"/>
<line x1="121.85" y1="233.9" x2="121.85" y2="235.7" stroke="#444" stroke-width="0.4"/>
<line x1="120.85" y1="233.9" x2="122.85" y2="233.9" stroke="#444" stroke-width="0.4"/>
<line x1="120.85" y1="235.7" x2="122.85" y2="235.7" stroke="#444" stroke-width="0.4"/>
<rect x="127.1" y="232.4" width="10.6" height="55.8" fill="#b9a9dc" stroke="#4a4a4a" stroke-width="0.55"/>
<line x1="132.4" y1="231.5" x2="132.4" y2="233.3" stroke="#444" stroke-width="0.4"/>
<line x1="131.4" y1="231.5" x2="133.4" y2="231.5" stroke="#444" stroke-width="0.4"/>
<line x1="131.4" y1="233.3" x2="133.4" y2="233.3" stroke="#444" stroke-width="0.4"/>
<rect x="137.7" y="234.8" width="11.3" height="53.4" fill="#f9f89b" stroke="#4a4a4a" stroke-width="0.55"/>
<line x1="143.35" y1="233.9" x2="143.35" y2="235.7" stroke="#444" stroke-width="0.4"/>
<line x1="142.35" y1="233.9" x2="144.35" y2="233.9" stroke="#444" stroke-width="0.4"/>
<line x1="142.35" y1="235.7" x2="144.35" y2="235.7" stroke="#444" stroke-width="0.4"/>
<text x="78.5" y="236.1" font-size="6.3" text-anchor="middle" class="s">a</text>
<text x="89.5" y="236.1" font-size="6.3" text-anchor="middle" class="s">a</text>
<text x="132.7" y="230.2" font-size="6.3" text-anchor="middle" class="s">b</text>
<line x1="46.2" y1="219.8" x2="46.2" y2="288.2" stroke="#333" stroke-width="0.75"/>
<line x1="46.2" y1="288.2" x2="153.1" y2="288.2" stroke="#333" stroke-width="0.75"/>
<line x1="44.6" y1="288.2" x2="46.2" y2="288.2" stroke="#333" stroke-width="0.45"/>
<text x="44.2" y="289.85" font-size="4.8" text-anchor="end" class="y">0.0</text>
<line x1="44.6" y1="274.62" x2="46.2" y2="274.62" stroke="#333" stroke-width="0.45"/>
<text x="44.2" y="276.27" font-size="4.8" text-anchor="end" class="y">0.2</text>
<line x1="44.6" y1="261.04" x2="46.2" y2="261.04" stroke="#333" stroke-width="0.45"/>
<text x="44.2" y="262.69" font-size="4.8" text-anchor="end" class="y">0.4</text>
<line x1="44.6" y1="247.46" x2="46.2" y2="247.46" stroke="#333" stroke-width="0.45"/>
<text x="44.2" y="249.11" font-size="4.8" text-anchor="end" class="y">0.6</text>
<line x1="44.6" y1="233.88" x2="46.2" y2="233.88" stroke="#333" stroke-width="0.45"/>
<text x="44.2" y="235.53" font-size="4.8" text-anchor="end" class="y">0.8</text>
<line x1="44.6" y1="220.3" x2="46.2" y2="220.3" stroke="#333" stroke-width="0.45"/>
<text x="44.2" y="221.95" font-size="4.8" text-anchor="end" class="y">1.0</text>
<text transform="translate(31.1,251) rotate(-90)" font-size="4.85" text-anchor="middle" class="yl">Root JA-Ile content (ng/g FW)</text>
<text x="72.6" y="294.3" font-size="5.35" text-anchor="middle" class="t">Cr treatment</text>
<text x="129.65" y="294.3" font-size="5.35" text-anchor="middle" class="t">Pro+Cr treatment</text>
<rect x="149" y="209.5" width="8.8" height="4.3" fill="#ffffff" stroke="#4a4a4a" stroke-width="0.55"/>
<text x="158.6" y="212.9" font-size="4.0" class="y">Control</text>
<rect x="149" y="214.1" width="8.8" height="4.3" fill="#92d592" stroke="#4a4a4a" stroke-width="0.55"/>
<text x="158.6" y="217.5" font-size="4.0" class="y">2.0 mg/L</text>
<rect x="149" y="218.7" width="8.8" height="4.3" fill="#b9a9dc" stroke="#4a4a4a" stroke-width="0.55"/>
<text x="158.6" y="222.1" font-size="4.0" class="y">8.0 mg/L</text>
<rect x="149" y="223.3" width="8.8" height="4.3" fill="#f9f89b" stroke="#4a4a4a" stroke-width="0.55"/>
<text x="158.6" y="226.7" font-size="4.0" class="y">10.0 mg/L</text>
<text x="4.1" y="214.8" font-family="'Liberation Sans', sans-serif" font-weight="bold" font-size="6.9" fill="#111" stroke="#111" stroke-width="0.25">E</text>
<line x1="215.9" y1="241.5" x2="270" y2="241.5" stroke="#f0cfa8" stroke-width="0.6"/>
<line x1="215.9" y1="241.5" x2="215.9" y2="272.1" stroke="#f0cfa8" stroke-width="0.4" stroke-dasharray="0.8 0.6" opacity="0.5"/>
<line x1="270" y1="241.5" x2="270" y2="259.7" stroke="#f0cfa8" stroke-width="0.4" stroke-dasharray="0.8 0.6" opacity="0.5"/>
<circle cx="251.1" cy="238.9" r="0.8" fill="#222"/>
<text x="253.7" y="240.6" font-size="5.3" class="s">(<tspan font-style="italic">p</tspan>=0.05)</text>
<line x1="226.6" y1="234.6" x2="280.95" y2="234.6" stroke="#9ed09e" stroke-width="0.6"/>
<line x1="226.6" y1="234.6" x2="226.6" y2="272.1" stroke="#9ed09e" stroke-width="0.4" stroke-dasharray="0.8 0.6" opacity="0.5"/>
<line x1="280.95" y1="234.6" x2="280.95" y2="259.7" stroke="#9ed09e" stroke-width="0.4" stroke-dasharray="0.8 0.6" opacity="0.5"/>
<circle cx="259" cy="232" r="0.8" fill="#222"/>
<text x="261.6" y="233.7" font-size="5.3" class="s">(<tspan font-style="italic">p</tspan>=0.05)</text>
<line x1="237.7" y1="228" x2="291.9" y2="228" stroke="#aaa2cf" stroke-width="0.6"/>
<line x1="237.7" y1="228" x2="237.7" y2="265.8" stroke="#aaa2cf" stroke-width="0.4" stroke-dasharray="0.8 0.6" opacity="0.5"/>
<line x1="291.9" y1="228" x2="291.9" y2="259.7" stroke="#aaa2cf" stroke-width="0.4" stroke-dasharray="0.8 0.6" opacity="0.5"/>
<circle cx="271.4" cy="225.4" r="0.8" fill="#222"/>
<text x="274" y="227.1" font-size="5.3" class="s">(<tspan font-style="italic">p</tspan>=0.05)</text>
<line x1="248.8" y1="221.5" x2="303.15" y2="221.5" stroke="#e6e29a" stroke-width="0.6"/>
<line x1="248.8" y1="221.5" x2="248.8" y2="259" stroke="#e6e29a" stroke-width="0.4" stroke-dasharray="0.8 0.6" opacity="0.5"/>
<line x1="303.15" y1="221.5" x2="303.15" y2="233.8" stroke="#e6e29a" stroke-width="0.4" stroke-dasharray="0.8 0.6" opacity="0.5"/>
<circle cx="279.7" cy="218.9" r="0.8" fill="#222"/>
<text x="282.3" y="220.6" font-size="5.3" class="s">(<tspan font-style="italic">p</tspan>=0.05)</text>
<rect x="210.7" y="272.1" width="10.4" height="15" fill="#ffffff" stroke="#4a4a4a" stroke-width="0.55"/>
<line x1="215.9" y1="271.2" x2="215.9" y2="273" stroke="#444" stroke-width="0.4"/>
<line x1="214.9" y1="271.2" x2="216.9" y2="271.2" stroke="#444" stroke-width="0.4"/>
<line x1="214.9" y1="273" x2="216.9" y2="273" stroke="#444" stroke-width="0.4"/>
<rect x="221.1" y="272.1" width="11" height="15" fill="#92d592" stroke="#4a4a4a" stroke-width="0.55"/>
<line x1="226.6" y1="271.2" x2="226.6" y2="273" stroke="#444" stroke-width="0.4"/>
<line x1="225.6" y1="271.2" x2="227.6" y2="271.2" stroke="#444" stroke-width="0.4"/>
<line x1="225.6" y1="273" x2="227.6" y2="273" stroke="#444" stroke-width="0.4"/>
<rect x="232.1" y="265.8" width="11.2" height="21.3" fill="#b9a9dc" stroke="#4a4a4a" stroke-width="0.55"/>
<line x1="237.7" y1="264.9" x2="237.7" y2="266.7" stroke="#444" stroke-width="0.4"/>
<line x1="236.7" y1="264.9" x2="238.7" y2="264.9" stroke="#444" stroke-width="0.4"/>
<line x1="236.7" y1="266.7" x2="238.7" y2="266.7" stroke="#444" stroke-width="0.4"/>
<rect x="243.3" y="259" width="11" height="28.1" fill="#f9f89b" stroke="#4a4a4a" stroke-width="0.55"/>
<line x1="248.8" y1="258.1" x2="248.8" y2="259.9" stroke="#444" stroke-width="0.4"/>
<line x1="247.8" y1="258.1" x2="249.8" y2="258.1" stroke="#444" stroke-width="0.4"/>
<line x1="247.8" y1="259.9" x2="249.8" y2="259.9" stroke="#444" stroke-width="0.4"/>
<rect x="264.6" y="259.7" width="10.8" height="27.4" fill="#ffffff" stroke="#4a4a4a" stroke-width="0.55"/>
<line x1="270" y1="258.8" x2="270" y2="260.6" stroke="#444" stroke-width="0.4"/>
<line x1="269" y1="258.8" x2="271" y2="258.8" stroke="#444" stroke-width="0.4"/>
<line x1="269" y1="260.6" x2="271" y2="260.6" stroke="#444" stroke-width="0.4"/>
<rect x="275.4" y="259.7" width="11.1" height="27.4" fill="#92d592" stroke="#4a4a4a" stroke-width="0.55"/>
<line x1="280.95" y1="258.8" x2="280.95" y2="260.6" stroke="#444" stroke-width="0.4"/>
<line x1="279.95" y1="258.8" x2="281.95" y2="258.8" stroke="#444" stroke-width="0.4"/>
<line x1="279.95" y1="260.6" x2="281.95" y2="260.6" stroke="#444" stroke-width="0.4"/>
<rect x="286.5" y="259.7" width="10.8" height="27.4" fill="#b9a9dc" stroke="#4a4a4a" stroke-width="0.55"/>
<line x1="291.9" y1="258.8" x2="291.9" y2="260.6" stroke="#444" stroke-width="0.4"/>
<line x1="290.9" y1="258.8" x2="292.9" y2="258.8" stroke="#444" stroke-width="0.4"/>
<line x1="290.9" y1="260.6" x2="292.9" y2="260.6" stroke="#444" stroke-width="0.4"/>
<rect x="297.3" y="233.8" width="11.7" height="53.3" fill="#f9f89b" stroke="#4a4a4a" stroke-width="0.55"/>
<line x1="303.15" y1="231.8" x2="303.15" y2="237.6" stroke="#444" stroke-width="0.4"/>
<line x1="302.15" y1="231.8" x2="304.15" y2="231.8" stroke="#444" stroke-width="0.4"/>
<line x1="302.15" y1="237.6" x2="304.15" y2="237.6" stroke="#444" stroke-width="0.4"/>
<text x="238" y="263.6" font-size="6.3" text-anchor="middle" class="s">a</text>
<text x="249.1" y="256.8" font-size="6.3" text-anchor="middle" class="s">a</text>
<text x="303.45" y="230.5" font-size="6.3" text-anchor="middle" class="s">b</text>
<line x1="204.6" y1="218.5" x2="204.6" y2="287.1" stroke="#333" stroke-width="0.75"/>
<line x1="204.6" y1="287.1" x2="315.9" y2="287.1" stroke="#333" stroke-width="0.75"/>
<line x1="203" y1="287.1" x2="204.6" y2="287.1" stroke="#333" stroke-width="0.45"/>
<text x="202.6" y="288.75" font-size="4.8" text-anchor="end" class="y">0.0</text>
<line x1="203" y1="273.48" x2="204.6" y2="273.48" stroke="#333" stroke-width="0.45"/>
<text x="202.6" y="275.13" font-size="4.8" text-anchor="end" class="y">1.0</text>
<line x1="203" y1="259.86" x2="204.6" y2="259.86" stroke="#333" stroke-width="0.45"/>
<text x="202.6" y="261.51" font-size="4.8" text-anchor="end" class="y">2.0</text>
<line x1="203" y1="246.24" x2="204.6" y2="246.24" stroke="#333" stroke-width="0.45"/>
<text x="202.6" y="247.89" font-size="4.8" text-anchor="end" class="y">3.0</text>
<line x1="203" y1="232.62" x2="204.6" y2="232.62" stroke="#333" stroke-width="0.45"/>
<text x="202.6" y="234.27" font-size="4.8" text-anchor="end" class="y">4.0</text>
<line x1="203" y1="219" x2="204.6" y2="219" stroke="#333" stroke-width="0.45"/>
<text x="202.6" y="220.65" font-size="4.8" text-anchor="end" class="y">5.0</text>
<text transform="translate(189.5,250.5) rotate(-90)" font-size="4.85" text-anchor="middle" class="yl">Shoot JA-Ile content (ng/g FW)</text>
<text x="234" y="295.1" font-size="5.35" text-anchor="middle" class="t">Cr treatment</text>
<text x="288.3" y="295.1" font-size="5.35" text-anchor="middle" class="t">Pro+Cr treatment</text>
<rect x="309" y="209.5" width="8.8" height="4.3" fill="#ffffff" stroke="#4a4a4a" stroke-width="0.55"/>
<text x="318.6" y="212.9" font-size="4.0" class="y">Control</text>
<rect x="309" y="214.1" width="8.8" height="4.3" fill="#92d592" stroke="#4a4a4a" stroke-width="0.55"/>
<text x="318.6" y="217.5" font-size="4.0" class="y">2.0 mg/L</text>
<rect x="309" y="218.7" width="8.8" height="4.3" fill="#b9a9dc" stroke="#4a4a4a" stroke-width="0.55"/>
<text x="318.6" y="222.1" font-size="4.0" class="y">8.0 mg/L</text>
<rect x="309" y="223.3" width="8.8" height="4.3" fill="#f9f89b" stroke="#4a4a4a" stroke-width="0.55"/>
<text x="318.6" y="226.7" font-size="4.0" class="y">10.0 mg/L</text>
<text x="179" y="214.8" font-family="'Liberation Sans', sans-serif" font-weight="bold" font-size="6.9" fill="#111" stroke="#111" stroke-width="0.25">F</text>
<rect x="51.9" y="351.8" width="11.4" height="37.7" fill="#ffffff" stroke="#4a4a4a" stroke-width="0.55"/>
<line x1="57.6" y1="347.3" x2="57.6" y2="356.8" stroke="#444" stroke-width="0.4"/>
<line x1="56.6" y1="347.3" x2="58.6" y2="347.3" stroke="#444" stroke-width="0.4"/>
<line x1="56.6" y1="356.8" x2="58.6" y2="356.8" stroke="#444" stroke-width="0.4"/>
<rect x="63.3" y="348.2" width="11.1" height="41.3" fill="#92d592" stroke="#4a4a4a" stroke-width="0.55"/>
<line x1="68.85" y1="340.6" x2="68.85" y2="356" stroke="#444" stroke-width="0.4"/>
<line x1="67.85" y1="340.6" x2="69.85" y2="340.6" stroke="#444" stroke-width="0.4"/>
<line x1="67.85" y1="356" x2="69.85" y2="356" stroke="#444" stroke-width="0.4"/>
<rect x="74.4" y="336.6" width="10.7" height="52.9" fill="#b9a9dc" stroke="#4a4a4a" stroke-width="0.55"/>
<line x1="79.75" y1="327.1" x2="79.75" y2="347.3" stroke="#444" stroke-width="0.4"/>
<line x1="78.75" y1="327.1" x2="80.75" y2="327.1" stroke="#444" stroke-width="0.4"/>
<line x1="78.75" y1="347.3" x2="80.75" y2="347.3" stroke="#444" stroke-width="0.4"/>
<rect x="85.1" y="340.2" width="10.9" height="49.3" fill="#f9f89b" stroke="#4a4a4a" stroke-width="0.55"/>
<line x1="90.55" y1="328.8" x2="90.55" y2="351.3" stroke="#444" stroke-width="0.4"/>
<line x1="89.55" y1="328.8" x2="91.55" y2="328.8" stroke="#444" stroke-width="0.4"/>
<line x1="89.55" y1="351.3" x2="91.55" y2="351.3" stroke="#444" stroke-width="0.4"/>
<rect x="105.4" y="360.3" width="10.7" height="29.2" fill="#ffffff" stroke="#4a4a4a" stroke-width="0.55"/>
<line x1="110.75" y1="355.4" x2="110.75" y2="366.3" stroke="#444" stroke-width="0.4"/>
<line x1="109.75" y1="355.4" x2="111.75" y2="355.4" stroke="#444" stroke-width="0.4"/>
<line x1="109.75" y1="366.3" x2="111.75" y2="366.3" stroke="#444" stroke-width="0.4"/>
<rect x="116.1" y="346.6" width="11.4" height="42.9" fill="#92d592" stroke="#4a4a4a" stroke-width="0.55"/>
<line x1="121.8" y1="340.6" x2="121.8" y2="354.9" stroke="#444" stroke-width="0.4"/>
<line x1="120.8" y1="340.6" x2="122.8" y2="340.6" stroke="#444" stroke-width="0.4"/>
<line x1="120.8" y1="354.9" x2="122.8" y2="354.9" stroke="#444" stroke-width="0.4"/>
<rect x="127.5" y="350.1" width="10" height="39.4" fill="#b9a9dc" stroke="#4a4a4a" stroke-width="0.55"/>
<line x1="132.5" y1="338.3" x2="132.5" y2="362" stroke="#444" stroke-width="0.4"/>
<line x1="131.5" y1="338.3" x2="133.5" y2="338.3" stroke="#444" stroke-width="0.4"/>
<line x1="131.5" y1="362" x2="133.5" y2="362" stroke="#444" stroke-width="0.4"/>
<rect x="137.5" y="348.5" width="10.7" height="41" fill="#f9f89b" stroke="#4a4a4a" stroke-width="0.55"/>
<line x1="142.85" y1="336" x2="142.85" y2="360" stroke="#444" stroke-width="0.4"/>
<line x1="141.85" y1="336" x2="143.85" y2="336" stroke="#444" stroke-width="0.4"/>
<line x1="141.85" y1="360" x2="143.85" y2="360" stroke="#444" stroke-width="0.4"/>
<text x="122.1" y="339.3" font-size="6.3" text-anchor="middle" class="s">b</text>
<line x1="48.5" y1="319.5" x2="48.5" y2="389.5" stroke="#333" stroke-width="0.75"/>
<line x1="48.5" y1="389.5" x2="150" y2="389.5" stroke="#333" stroke-width="0.75"/>
<line x1="46.9" y1="389.5" x2="48.5" y2="389.5" stroke="#333" stroke-width="0.45"/>
<text x="46.5" y="391.15" font-size="4.8" text-anchor="end" class="y">0.0</text>
<line x1="46.9" y1="366.33" x2="48.5" y2="366.33" stroke="#333" stroke-width="0.45"/>
<text x="46.5" y="367.98" font-size="4.8" text-anchor="end" class="y">1.0</text>
<line x1="46.9" y1="343.17" x2="48.5" y2="343.17" stroke="#333" stroke-width="0.45"/>
<text x="46.5" y="344.82" font-size="4.8" text-anchor="end" class="y">2.0</text>
<line x1="46.9" y1="320" x2="48.5" y2="320" stroke="#333" stroke-width="0.45"/>
<text x="46.5" y="321.65" font-size="4.8" text-anchor="end" class="y">3.0</text>
<text transform="translate(30.2,356) rotate(-90)" font-size="4.85" text-anchor="middle" class="yl">Root Anthocyanin content (nmol/g FW)</text>
<text x="71.45" y="397.1" font-size="5.35" text-anchor="middle" class="t">Cr treatment</text>
<text x="130" y="397.1" font-size="5.35" text-anchor="middle" class="t">Pro+Cr treatment</text>
<rect x="148.2" y="311" width="8.8" height="4.3" fill="#ffffff" stroke="#4a4a4a" stroke-width="0.55"/>
<text x="157.8" y="314.4" font-size="4.0" class="y">Control</text>
<rect x="148.2" y="315.6" width="8.8" height="4.3" fill="#92d592" stroke="#4a4a4a" stroke-width="0.55"/>
<text x="157.8" y="319" font-size="4.0" class="y">2.0 mg/L</text>
<rect x="148.2" y="320.2" width="8.8" height="4.3" fill="#b9a9dc" stroke="#4a4a4a" stroke-width="0.55"/>
<text x="157.8" y="323.6" font-size="4.0" class="y">8.0 mg/L</text>
<rect x="148.2" y="324.8" width="8.8" height="4.3" fill="#f9f89b" stroke="#4a4a4a" stroke-width="0.55"/>
<text x="157.8" y="328.2" font-size="4.0" class="y">10.0 mg/L</text>
<text x="4.1" y="316.2" font-family="'Liberation Sans', sans-serif" font-weight="bold" font-size="6.9" fill="#111" stroke="#111" stroke-width="0.25">G</text>
<line x1="218.65" y1="333.4" x2="273.85" y2="333.4" stroke="#f0cfa8" stroke-width="0.6"/>
<line x1="218.65" y1="333.4" x2="218.65" y2="366.3" stroke="#f0cfa8" stroke-width="0.4" stroke-dasharray="0.8 0.6" opacity="0.5"/>
<line x1="273.85" y1="333.4" x2="273.85" y2="373.9" stroke="#f0cfa8" stroke-width="0.4" stroke-dasharray="0.8 0.6" opacity="0.5"/>
<circle cx="226.4" cy="330.8" r="0.8" fill="#222"/>
<text x="229" y="332.5" font-size="5.3" class="s">(<tspan font-style="italic">p</tspan>=0.05)</text>
<line x1="252.1" y1="324.5" x2="308" y2="324.5" stroke="#e6e29a" stroke-width="0.6"/>
<line x1="252.1" y1="324.5" x2="252.1" y2="343.7" stroke="#e6e29a" stroke-width="0.4" stroke-dasharray="0.8 0.6" opacity="0.5"/>
<line x1="308" y1="324.5" x2="308" y2="352.5" stroke="#e6e29a" stroke-width="0.4" stroke-dasharray="0.8 0.6" opacity="0.5"/>
<circle cx="261.6" cy="321.9" r="0.8" fill="#222"/>
<text x="264.2" y="323.6" font-size="5.3" class="s">(<tspan font-style="italic">p</tspan>=0.05)</text>
<rect x="213.3" y="366.3" width="10.7" height="25" fill="#ffffff" stroke="#4a4a4a" stroke-width="0.55"/>
<line x1="218.65" y1="364" x2="218.65" y2="370" stroke="#444" stroke-width="0.4"/>
<line x1="217.65" y1="364" x2="219.65" y2="364" stroke="#444" stroke-width="0.4"/>
<line x1="217.65" y1="370" x2="219.65" y2="370" stroke="#444" stroke-width="0.4"/>
<rect x="224" y="357.3" width="11.1" height="34" fill="#92d592" stroke="#4a4a4a" stroke-width="0.55"/>
<line x1="229.55" y1="352" x2="229.55" y2="363.2" stroke="#444" stroke-width="0.4"/>
<line x1="228.55" y1="352" x2="230.55" y2="352" stroke="#444" stroke-width="0.4"/>
<line x1="228.55" y1="363.2" x2="230.55" y2="363.2" stroke="#444" stroke-width="0.4"/>
<rect x="235.1" y="353.2" width="11.4" height="38.1" fill="#b9a9dc" stroke="#4a4a4a" stroke-width="0.55"/>
<line x1="240.8" y1="345.4" x2="240.8" y2="362" stroke="#444" stroke-width="0.4"/>
<line x1="239.8" y1="345.4" x2="241.8" y2="345.4" stroke="#444" stroke-width="0.4"/>
<line x1="239.8" y1="362" x2="241.8" y2="362" stroke="#444" stroke-width="0.4"/>
<rect x="246.5" y="343.7" width="11.2" height="47.6" fill="#f9f89b" stroke="#4a4a4a" stroke-width="0.55"/>
<line x1="252.1" y1="341.1" x2="252.1" y2="348.5" stroke="#444" stroke-width="0.4"/>
<line x1="251.1" y1="341.1" x2="253.1" y2="341.1" stroke="#444" stroke-width="0.4"/>
<line x1="251.1" y1="348.5" x2="253.1" y2="348.5" stroke="#444" stroke-width="0.4"/>
<rect x="268.5" y="373.9" width="10.7" height="17.4" fill="#ffffff" stroke="#4a4a4a" stroke-width="0.55"/>
<line x1="273.85" y1="370.3" x2="273.85" y2="376.3" stroke="#444" stroke-width="0.4"/>
<line x1="272.85" y1="370.3" x2="274.85" y2="370.3" stroke="#444" stroke-width="0.4"/>
<line x1="272.85" y1="376.3" x2="274.85" y2="376.3" stroke="#444" stroke-width="0.4"/>
<rect x="279.2" y="364.9" width="11.7" height="26.4" fill="#92d592" stroke="#4a4a4a" stroke-width="0.55"/>
<line x1="285.05" y1="359.6" x2="285.05" y2="371.5" stroke="#444" stroke-width="0.4"/>
<line x1="284.05" y1="359.6" x2="286.05" y2="359.6" stroke="#444" stroke-width="0.4"/>
<line x1="284.05" y1="371.5" x2="286.05" y2="371.5" stroke="#444" stroke-width="0.4"/>
<rect x="290.9" y="357.3" width="11.4" height="34" fill="#b9a9dc" stroke="#4a4a4a" stroke-width="0.55"/>
<line x1="296.6" y1="349.6" x2="296.6" y2="365.6" stroke="#444" stroke-width="0.4"/>
<line x1="295.6" y1="349.6" x2="297.6" y2="349.6" stroke="#444" stroke-width="0.4"/>
<line x1="295.6" y1="365.6" x2="297.6" y2="365.6" stroke="#444" stroke-width="0.4"/>
<rect x="302.3" y="352.5" width="11.4" height="38.8" fill="#f9f89b" stroke="#4a4a4a" stroke-width="0.55"/>
<line x1="308" y1="350.8" x2="308" y2="354.9" stroke="#444" stroke-width="0.4"/>
<line x1="307" y1="350.8" x2="309" y2="350.8" stroke="#444" stroke-width="0.4"/>
<line x1="307" y1="354.9" x2="309" y2="354.9" stroke="#444" stroke-width="0.4"/>
<text x="229.85" y="350.7" font-size="6.3" text-anchor="middle" class="s">a</text>
<text x="241.1" y="344.1" font-size="6.3" text-anchor="middle" class="s">a</text>
<text x="252.4" y="339.8" font-size="6.3" text-anchor="middle" class="s">a</text>
<text x="285.35" y="358.3" font-size="6.3" text-anchor="middle" class="s">b</text>
<text x="296.9" y="348.3" font-size="6.3" text-anchor="middle" class="s">b</text>
<text x="308.3" y="349.5" font-size="6.3" text-anchor="middle" class="s">b</text>
<line x1="207.1" y1="319.9" x2="207.1" y2="391.3" stroke="#333" stroke-width="0.75"/>
<line x1="207.1" y1="391.3" x2="319" y2="391.3" stroke="#333" stroke-width="0.75"/>
<line x1="205.5" y1="391.3" x2="207.1" y2="391.3" stroke="#333" stroke-width="0.45"/>
<text x="205.1" y="392.95" font-size="4.8" text-anchor="end" class="y">0.0</text>
<line x1="205.5" y1="377.12" x2="207.1" y2="377.12" stroke="#333" stroke-width="0.45"/>
<text x="205.1" y="378.77" font-size="4.8" text-anchor="end" class="y">5.0</text>
<line x1="205.5" y1="362.94" x2="207.1" y2="362.94" stroke="#333" stroke-width="0.45"/>
<text x="205.1" y="364.59" font-size="4.8" text-anchor="end" class="y">10.0</text>
<line x1="205.5" y1="348.76" x2="207.1" y2="348.76" stroke="#333" stroke-width="0.45"/>
<text x="205.1" y="350.41" font-size="4.8" text-anchor="end" class="y">15.0</text>
<line x1="205.5" y1="334.58" x2="207.1" y2="334.58" stroke="#333" stroke-width="0.45"/>
<text x="205.1" y="336.23" font-size="4.8" text-anchor="end" class="y">20.0</text>
<line x1="205.5" y1="320.4" x2="207.1" y2="320.4" stroke="#333" stroke-width="0.45"/>
<text x="205.1" y="322.05" font-size="4.8" text-anchor="end" class="y">25.0</text>
<text transform="translate(188.1,358) rotate(-90)" font-size="4.85" text-anchor="middle" class="yl">Shoot Anthocyanin content (nmol/g FW)</text>
<text x="233" y="398.4" font-size="5.6" text-anchor="middle" class="t">Cr treatment</text>
<text x="292.4" y="398.4" font-size="5.6" text-anchor="middle" class="t">Pro+Cr treatment</text>
<rect x="313.7" y="311" width="8.8" height="4.3" fill="#ffffff" stroke="#4a4a4a" stroke-width="0.55"/>
<text x="323.3" y="314.4" font-size="4.0" class="y">Control</text>
<rect x="313.7" y="315.6" width="8.8" height="4.3" fill="#92d592" stroke="#4a4a4a" stroke-width="0.55"/>
<text x="323.3" y="319" font-size="4.0" class="y">2.0 mg/L</text>
<rect x="313.7" y="320.2" width="8.8" height="4.3" fill="#b9a9dc" stroke="#4a4a4a" stroke-width="0.55"/>
<text x="323.3" y="323.6" font-size="4.0" class="y">8.0 mg/L</text>
<rect x="313.7" y="324.8" width="8.8" height="4.3" fill="#f9f89b" stroke="#4a4a4a" stroke-width="0.55"/>
<text x="323.3" y="328.2" font-size="4.0" class="y">10.0 mg/L</text>
<text x="178.9" y="316.4" font-family="'Liberation Sans', sans-serif" font-weight="bold" font-size="6.9" fill="#111" stroke="#111" stroke-width="0.25">H</text>
<line x1="11.6" y1="104.1" x2="343" y2="104.1" stroke="#6a6a6a" stroke-width="1.2" stroke-dasharray="1.5 1.605"/>
<line x1="10.93" y1="206.1" x2="343" y2="206.1" stroke="#6a6a6a" stroke-width="1.2" stroke-dasharray="1.5 1.605"/>
<line x1="10.93" y1="307.5" x2="343" y2="307.5" stroke="#6a6a6a" stroke-width="1.2" stroke-dasharray="1.5 1.605"/>
<text x="17.5" y="8.4" font-weight="bold" font-size="9.8" fill="#111" stroke="#111" stroke-width="0.3">Root</text>
<text x="200" y="8.1" font-weight="bold" font-size="10" fill="#111" stroke="#111" stroke-width="0.3">Shoot</text>
</svg>
</body></html>
